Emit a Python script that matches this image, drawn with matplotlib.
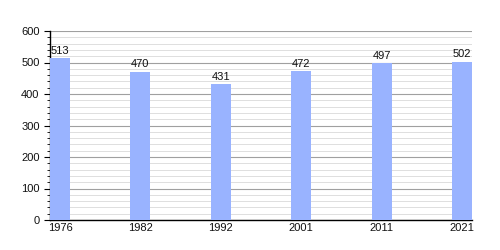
import matplotlib
matplotlib.use("Agg")
import matplotlib.pyplot as plt
from matplotlib.ticker import MultipleLocator

# Data
years = ["1976", "1982", "1992", "2001", "2011", "2021"]
population = [513, 470, 431, 472, 497, 502]

plt.rcParams['font.family'] = ['Liberation Sans', 'DejaVu Sans']

fig = plt.figure(figsize=(5, 2.5), dpi=100)
ax = fig.add_axes([0.1, 0.12, 0.844, 0.756])

pos = list(range(len(years)))
bar_w = 0.25
bars = ax.bar(pos, population, width=bar_w, align='edge', color='#99b3ff', zorder=3)

# value labels above bars
for b, v in zip(bars, population):
    ax.text(b.get_x() + bar_w / 2, v + 8, str(v), ha='center', va='bottom',
            fontsize=8, color='#111111', zorder=4)

ax.set_xlim(0, len(years) - 1 + bar_w)
ax.set_ylim(0, 600)
ax.set_xticks([p + bar_w / 2 for p in pos])
ax.set_xticklabels(years)
ax.tick_params(axis='x', length=0, labelsize=8, pad=2, labelcolor='#111111')

ax.yaxis.set_major_locator(MultipleLocator(100))
ax.yaxis.set_minor_locator(MultipleLocator(20))
ax.tick_params(axis='y', which='major', length=4, labelsize=8, width=0.8, labelcolor='#111111')
ax.tick_params(axis='y', which='minor', length=2, width=0.6)

# gridlines
ax.grid(axis='y', which='major', color='#a0a0a0', linewidth=0.8, zorder=0)
ax.grid(axis='y', which='minor', color='#dedede', linewidth=0.7, zorder=0)

ax.spines['top'].set_visible(False)
ax.spines['right'].set_visible(False)
ax.spines['left'].set_linewidth(1.0)
ax.spines['bottom'].set_linewidth(1.0)

fig.savefig("out.png", dpi=100)
